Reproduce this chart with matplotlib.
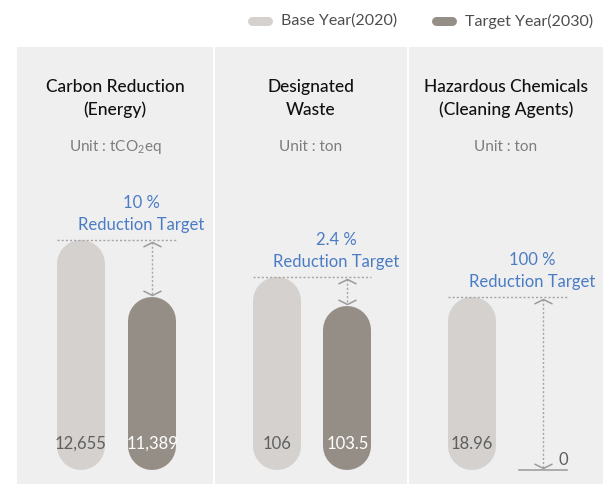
import matplotlib
matplotlib.use("Agg")
import matplotlib.pyplot as plt
from matplotlib.path import Path
import numpy as np

plt.rcParams['font.family'] = ['Lato', 'DejaVu Sans']
plt.rcParams['mathtext.fontset'] = 'custom'
plt.rcParams['mathtext.rm'] = 'Lato'
plt.rcParams['mathtext.it'] = 'Lato'

# ---- data ----
titles = ["Carbon Reduction\n(Energy)", "Designated\nWaste", "Hazardous Chemicals\n(Cleaning Agents)"]
units = ["Unit : tCO$_2$eq", "Unit : ton", "Unit : ton"]
base_values = [12655, 106, 18.96]
target_values = [11389, 103.5, 0]
base_labels = ["12,655", "106", "18.96"]
target_labels = ["11,389", "103.5", "0"]
pct_labels = ["10 %", "2.4 %", "100 %"]
series_names = ["Base Year(2020)", "Target Year(2030)"]

# ---- style ----
W, H, DPI = 603, 484, 100
c_base = "#d4d1ce"
c_target = "#958e87"
c_panel = "#efefef"
c_blue = "#4a7cc5"
c_dot = "#a5a5a5"

# panel layout in pixels (left, right), top/bottom
panels_px = [(17, 213), (215, 407), (409, 603)]
p_top, p_bot = 47, 484
# visual axis floor (pixel 470) and ylim per panel
ylims = [(7236, 16942), (88.15, 125.8), (-1.534, 46.36)]
floors = [7547, 89.36, 0]

fig = plt.figure(figsize=(W / DPI, H / DPI), dpi=DPI)
fig.patch.set_facecolor("white")

bar_w_px = 48
r_px = bar_w_px / 2
lw_pt = bar_w_px * 72 / DPI

chev = Path([(-1, -0.5), (0, 0), (1, -0.5)], [Path.MOVETO, Path.LINETO, Path.LINETO])
chev_dn = Path([(-1, 0.5), (0, 0), (1, 0.5)], [Path.MOVETO, Path.LINETO, Path.LINETO])

for i in range(3):
    L, R = panels_px[i]
    ax = fig.add_axes([L / W, 1 - p_bot / H, (R - L) / W, (p_bot - p_top) / H])
    ax.set_facecolor(c_panel)
    for s in ax.spines.values():
        s.set_visible(False)
    ax.set_xticks([]); ax.set_yticks([])
    pw = R - L
    # x: category 0 at 0.325 of width, 1 at 0.69
    x0f, x1f = 0.325, 0.69
    unit = (x1f - x0f)
    ax.set_xlim(-x0f / unit, (1 - x0f) / unit)
    lo, hi = ylims[i]
    ax.set_ylim(lo, hi)
    ypp = (hi - lo) / (p_bot - p_top)   # data per pixel
    xpp = (1 / unit) / pw
    r_d = r_px * ypp
    hw = r_px * xpp
    fl = floors[i]

    def fy(py):
        return (p_bot - py) / (p_bot - p_top)

    # titles
    t1, t2 = titles[i].split("\n")
    ax.text(0.5, fy(92), t1, transform=ax.transAxes, ha="center",
            va="baseline", fontsize=12.5, color="#111111", fontweight="medium")
    ax.text(0.5, fy(115), t2, transform=ax.transAxes, ha="center",
            va="baseline", fontsize=12.5, color="#111111", fontweight="medium")
    ax.text(0.5, fy(151), units[i], transform=ax.transAxes, ha="center",
            va="baseline", fontsize=11, color="#7d7d7d")

    # bars (rounded via round caps)
    vals = [base_values[i], target_values[i]]
    cols = [c_base, c_target]
    for j, v in enumerate(vals):
        if v - fl > 2 * r_d:
            ax.plot([j, j], [fl + r_d, v - r_d], color=cols[j], lw=lw_pt,
                    solid_capstyle="round", zorder=2)
    # value labels
    ax.annotate(base_labels[i], (0, fl), xytext=(0, 21 * 72 / DPI), textcoords="offset points",
                ha="center", va="baseline", fontsize=12, color="#5f5f5f", zorder=5)
    if target_values[i] > fl:
        ax.annotate(target_labels[i], (1, fl), xytext=(0, 21 * 72 / DPI), textcoords="offset points",
                    ha="center", va="baseline", fontsize=12, color="white", zorder=5)
    else:
        ax.annotate(target_labels[i], (1, target_values[i]), xytext=(20 * 72 / DPI, 5 * 72 / DPI),
                    textcoords="offset points", ha="center", va="baseline", fontsize=12,
                    color="#5f5f5f", zorder=5)
        ax.plot([1 - hw, 1 + hw], [target_values[i], target_values[i]], color="#a0a0a0",
                lw=1.2, zorder=3)

    # dotted reference line
    bv, tv = base_values[i], target_values[i]
    ax.plot([0 - hw, 1 + hw], [bv, bv], color=c_dot, lw=1, ls=(0, (1.5, 1.5)), zorder=3)
    # dotted arrow shaft
    tip_off = 2 * ypp
    ax.plot([1, 1], [bv - tip_off, tv + tip_off], color=c_dot, lw=1, ls=(0, (1.5, 1.5)), zorder=3)
    ax.plot([1], [bv - tip_off], marker=chev, ms=13, mew=1.1, mec="#9a9a9a", mfc="none",
            ls="none", zorder=4)
    ax.plot([1], [tv + tip_off], marker=chev_dn, ms=13, mew=1.1, mec="#9a9a9a", mfc="none",
            ls="none", zorder=4)

    # reduction target text
    ax.annotate(pct_labels[i], (1, bv), xytext=(-11 * 72 / DPI, 32 * 72 / DPI),
                textcoords="offset points", ha="center", va="baseline", fontsize=12, color=c_blue)
    ax.annotate("Reduction Target", (1, bv), xytext=(-11 * 72 / DPI, 10 * 72 / DPI),
                textcoords="offset points", ha="center", va="baseline", fontsize=12, color=c_blue)

# legend (overlay axes in pixel units)
lax = fig.add_axes([0, 0, 1, 1])
lax.set_xlim(0, W); lax.set_ylim(H, 0)
lax.axis("off")
leg_items = [(252, 281, c_base), (436, 465, c_target)]
for (px, tx, c), name in zip(leg_items, series_names):
    lax.plot([px, px + 16], [21, 21], color=c, lw=9 * 72 / DPI, solid_capstyle="round")
    lax.text(tx, 21, name, ha="left", va="center", fontsize=11.5, color="#4d4d4d")

fig.savefig("out.png", dpi=DPI)
